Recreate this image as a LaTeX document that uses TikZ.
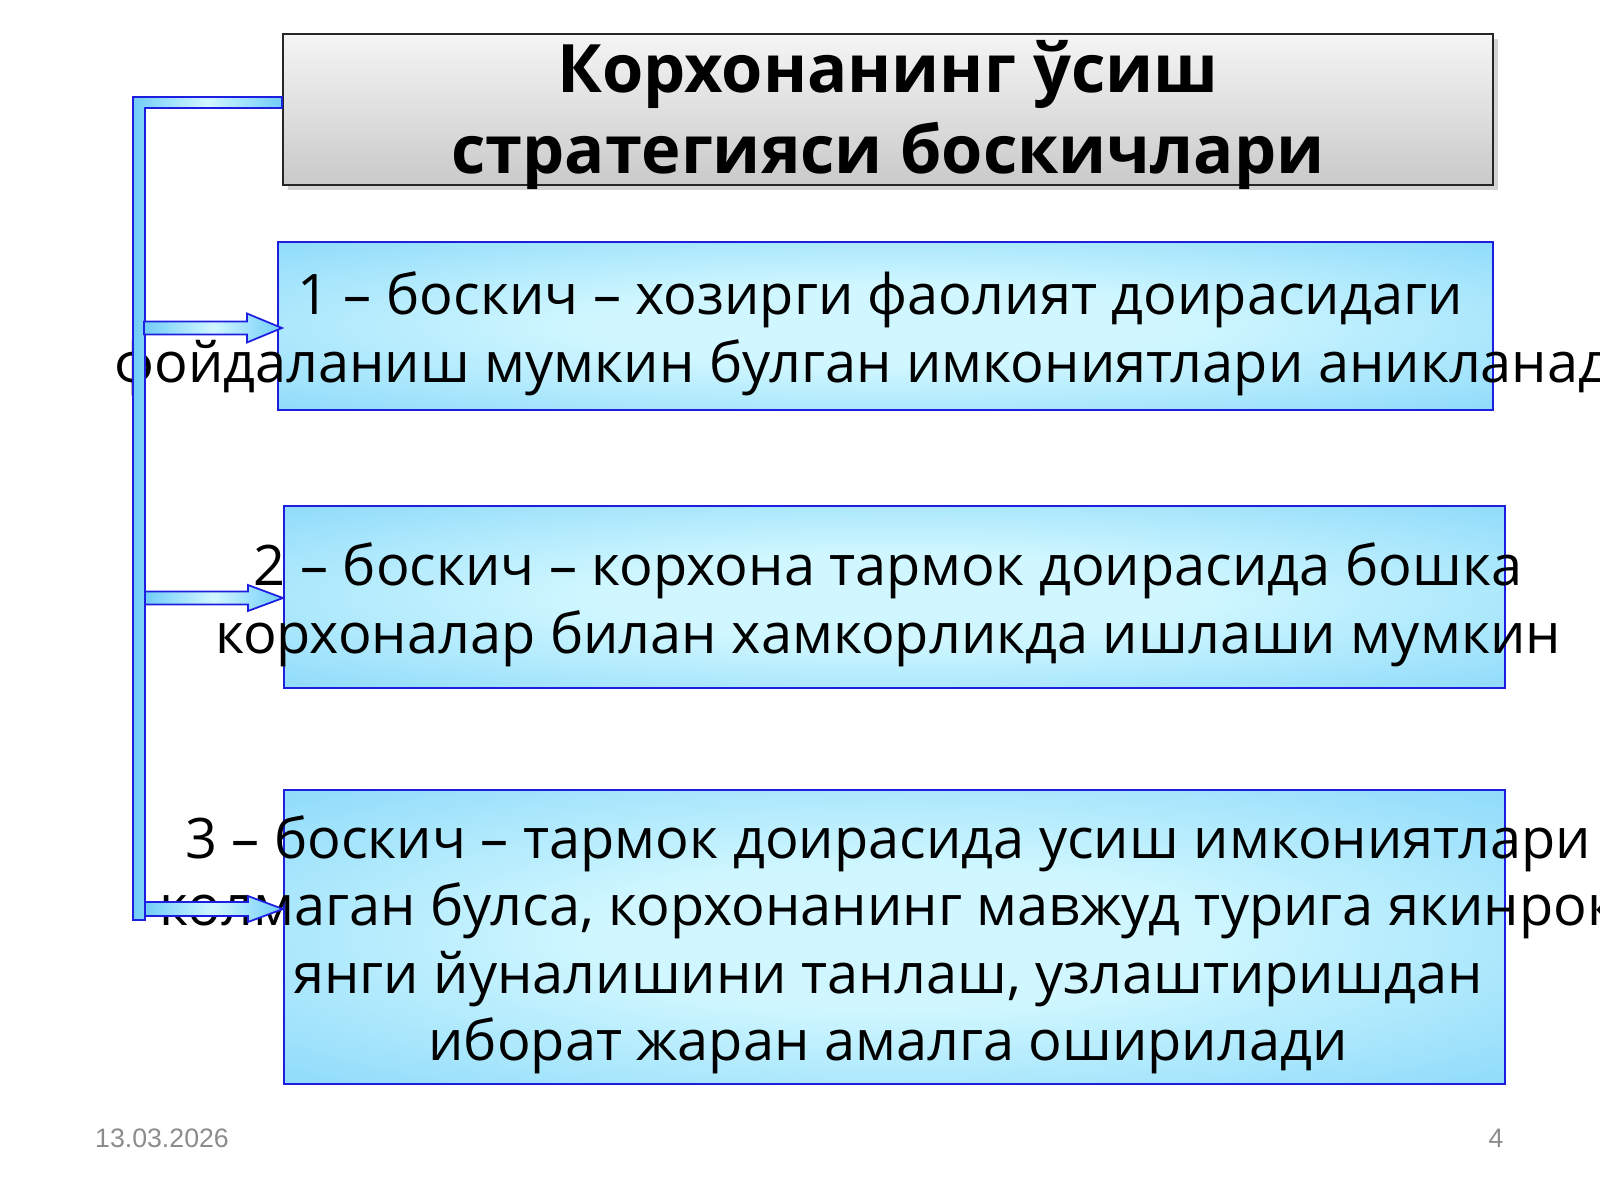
\documentclass[tikz,border=0pt]{standalone}
\usepackage{fontspec}
\setmainfont{Open Sans}
\newfontfamily\footfont{Liberation Sans}
\usepackage{xcolor}
\usetikzlibrary{shadows}

\definecolor{edgeblue}{RGB}{30,30,225}
\definecolor{skyblue}{RGB}{88,196,246}
\definecolor{paleblue}{RGB}{208,247,255}
\colorlet{midblue}{skyblue!60!paleblue}
\definecolor{footgray}{RGB}{140,140,140}
\pgfdeclareradialshading{glow}{\pgfpoint{0bp}{0bp}}{color(0bp)=(paleblue); color(12bp)=(paleblue); color(38bp)=(midblue); color(58bp)=(skyblue); color(72bp)=(skyblue)}

\begin{document}
\begin{tikzpicture}[
    titlebox/.style={draw=black!85, line width=0.6pt, top color=gray!8, bottom color=gray!42,
      drop shadow={shadow xshift=0.05cm, shadow yshift=-0.05cm, opacity=0.35}},
    stagebox/.style={draw=edgeblue, line width=0.6pt, shading=glow},
    boxtext/.style={align=center, font=\fontsize{15.9}{19.2}\selectfont},
    linkbar/.style={draw=edgeblue, line width=0.5pt, left color=skyblue!85, right color=skyblue!85, middle color=paleblue},
    foottext/.style={text=footgray, font=\footfont\fontsize{7.6}{9}\selectfont}
  ]
      \useasboundingbox (0,0) rectangle (16,12);

      % 見出し
      \node[titlebox, minimum width=12.10cm, minimum height=1.51cm] (title) at (8.88,10.905) {};
      \node[align=center, font=\fontsize{19}{23.2}\bfseries] (head) at (8.88,10.85)
        {Корхонанинг ўсиш\\стратегияси боскичлари};

      % 各段階の箱
      \node[stagebox, minimum width=12.15cm, minimum height=1.68cm] (b1) at (8.855,8.74) {};
      \node[stagebox, minimum width=12.21cm, minimum height=1.82cm] (b2) at (8.945,6.03) {};
      \node[stagebox, minimum width=12.21cm, minimum height=2.94cm] (b3) at (8.945,2.63) {};

      \node[boxtext] (s1) at (8.80,8.66)
        {1 – боскич – хозирги фаолият доирасидаги\\фойдаланиш мумкин булган имкониятлари аникланади};
      \node[boxtext] (s2) at (8.88,5.95)
        {2 – боскич – корхона тармок доирасида бошка\\корхоналар билан хамкорликда ишлаши мумкин};
      \node[boxtext] (s3) at (8.88,2.55)
        {3 – боскич – тармок доирасида усиш имкониятлари\\колмаган булса, корхонанинг мавжуд турига якинрок\\янги йуналишини танлаш, узлаштиришдан\\иборат жаран амалга оширилади};

      % 矢印の先端
      \coordinate (tip1) at ([xshift=0.05cm,yshift=-0.02cm]b1.west);
      \coordinate (tip2) at ([yshift=-0.01cm]b2.west);
      \coordinate (tip3) at ([yshift=0.28cm]b3.west);
      \coordinate (barTop) at (1.33,11.03);
      \coordinate (barBot) at (1.45,2.80);

      % 左の縦の帯
      \draw[linkbar] (barTop) -- (barTop -| title.west) -- ++(0,-0.11) -- (1.45,10.92)
        -- (barBot) -- ++(-0.12,0) -- cycle;

      % 矢印
      \begin{scope}[shift={(tip1)}]
        \draw[linkbar] (0,0) -- (-0.35,0.145) -- (-0.35,0.065) -- (-1.38,0.065)
          -- (-1.38,-0.065) -- (-0.35,-0.065) -- (-0.35,-0.145) -- cycle;
      \end{scope}
      \begin{scope}[shift={(tip2)}]
        \draw[linkbar] (0,0) -- (-0.35,0.13) -- (-0.35,0.065) -- (-1.38,0.065)
          -- (-1.38,-0.065) -- (-0.35,-0.065) -- (-0.35,-0.13) -- cycle;
      \end{scope}
      \begin{scope}[shift={(tip3)}]
        \draw[linkbar] (0,0) -- (-0.35,0.13) -- (-0.35,0.07) -- (-1.38,0.07)
          -- (-1.38,-0.07) -- (-0.35,-0.07) -- (-0.35,-0.13) -- cycle;
      \end{scope}

      % 日付とページ番号
      \node[foottext] (date) at (1.62,0.62) {13.03.2026};
      \node[foottext] (page) at (14.96,0.62) {4};
  \end{tikzpicture}
\end{document}
